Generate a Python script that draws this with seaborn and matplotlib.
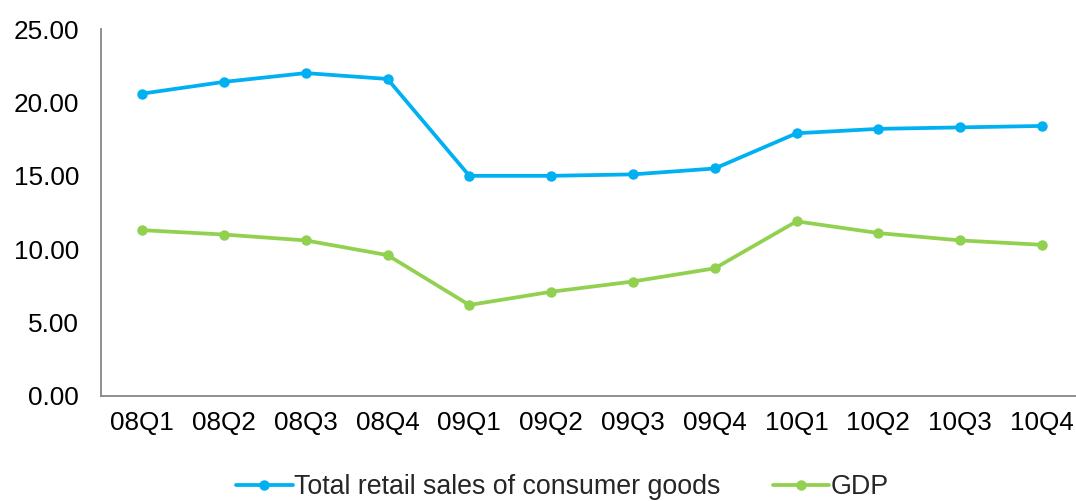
import pandas as pd
import numpy as np
import matplotlib
matplotlib.use('Agg')
import matplotlib.pyplot as plt
from matplotlib.ticker import FormatStrFormatter
import seaborn as sns

# ── Data ──────────────────────────────────────────────────────────────────────
quarters = ['08Q1', '08Q2', '08Q3', '08Q4', '09Q1', '09Q2',
            '09Q3', '09Q4', '10Q1', '10Q2', '10Q3', '10Q4']
retail = [20.6, 21.4, 22.0, 21.6, 15.0, 15.0, 15.1, 15.5, 17.9, 18.2, 18.3, 18.4]
gdp    = [11.3, 11.0, 10.6, 9.6, 6.2, 7.1, 7.8, 8.7, 11.9, 11.1, 10.6, 10.3]
series_names = ['Total retail sales of consumer goods', 'GDP']

df = pd.DataFrame({
    'Quarter': quarters * 2,
    'Value': retail + gdp,
    'Series': [series_names[0]] * len(quarters) + [series_names[1]] * len(quarters),
})

# ── Colors ────────────────────────────────────────────────────────────────────
BLUE  = '#00B0F0'
GREEN = '#92D050'
AXIS  = '#868686'

sns.set_style('white')
plt.rcParams['font.family'] = ['Liberation Sans', 'DejaVu Sans']

fig = plt.figure(figsize=(10.76, 5.01), dpi=100)
ax = fig.add_axes([0.094, 0.2096, 0.906, 0.7324])

sns.lineplot(data=df, x='Quarter', y='Value', hue='Series', ax=ax,
             palette=[BLUE, GREEN], marker='o', markersize=7.5,
             markeredgewidth=0, linewidth=2.7, sort=False, legend=True)

ax.set_ylim(0, 25)
ax.set_yticks(np.arange(0, 26, 5))
ax.yaxis.set_major_formatter(FormatStrFormatter('%.2f'))
ax.set_xlim(-0.5, 11.415)
ax.set_xlabel('')
ax.set_ylabel('')
ax.tick_params(axis='y', length=0, pad=16, labelsize=18.8, labelcolor='black')
ax.tick_params(axis='x', length=0, pad=11, labelsize=18.8, labelcolor='black')
ax.spines[['top', 'right']].set_visible(False)
ax.spines[['left', 'bottom']].set_color(AXIS)
ax.spines[['left', 'bottom']].set_linewidth(1.3)

handles, labels = ax.get_legend_handles_labels()
ax.get_legend().remove()
fig.legend(handles, labels, loc='center', bbox_to_anchor=(0.5228, 0.028),
           ncol=2, frameon=False, fontsize=19.3, handlelength=2.1,
           handletextpad=0.05, columnspacing=1.97, borderaxespad=0)

fig.savefig('out.png', dpi=100)
